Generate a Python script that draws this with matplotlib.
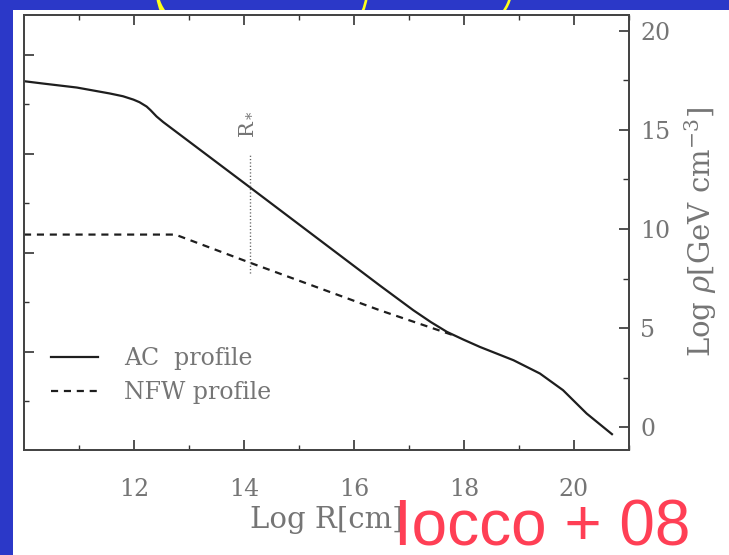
import numpy as np
import matplotlib
matplotlib.use("Agg")
import matplotlib.pyplot as plt
from matplotlib.patches import Ellipse, Rectangle
from matplotlib.ticker import FixedLocator, NullFormatter

plt.rcParams["mathtext.fontset"] = "dejavuserif"

# AC profile (log R [cm], log rho [GeV cm^-3])
ac_logr = [10.0, 10.35, 10.96, 11.56, 11.8, 11.99, 12.1, 12.23, 12.3, 12.41, 12.53,
           14.11, 16.47, 17.08, 17.4, 17.69, 17.99, 18.29, 18.9, 19.38, 19.8, 20.23, 20.69]
ac_rho = [17.46, 17.34, 17.14, 16.84, 16.7, 16.53, 16.4, 16.18, 16.0, 15.68, 15.40,
          12.10, 7.15, 5.90, 5.3, 4.81, 4.42, 4.05, 3.38, 2.71, 1.87, 0.69, -0.35]

# NFW profile
nfw_logr = [10.0, 12.75, 14.11, 16.47, 17.69, 17.85]
nfw_rho = [9.72, 9.72, 8.3, 5.9, 4.75, 4.6]

# R* marker
rstar_x = 14.11
rstar_lo, rstar_hi = 7.77, 13.82

xmaj = [12, 14, 16, 18, 20]
xmin = [11, 13, 15, 17, 19, 21]
ymaj = [0, 5, 10, 15, 20]
ymin = [2.5, 7.5, 12.5, 17.5]
# left axis has its own (unlabelled) scale
lmaj = [3.8, 8.8, 13.8, 18.8]
lmin = [1.3, 6.3, 11.3, 16.3]

W, H = 729, 555
BLUE = "#2b38c8"
GREY = "#757575"
INK = "#1e1e1e"
SERIF = "DejaVu Serif"


def px(x, y):
    # pixel (from top-left) -> figure fraction
    return x / W, 1 - y / H


fig = plt.figure(figsize=(W / 100, H / 100), dpi=100)
fig.patch.set_facecolor(BLUE)

# yellow ellipses of the slide, mostly hidden behind the picture
for cx, a in [(262, 105), (334, 177)]:
    fig.add_artist(Ellipse(px(cx, -10), 2 * a / W, 150 / H, transform=fig.transFigure,
                           fill=False, ec="#ffff1a", lw=1.9, zorder=0))

# white picture
x0, y0 = px(13, 555)
fig.add_artist(Rectangle((x0, y0), 1 - x0, (555 - 10) / H, transform=fig.transFigure,
                         fc="white", ec="none", zorder=1))

l, b = px(24, 450)
r, t = px(629, 15)
ax = fig.add_axes([l, b, r - l, t - b])
ax.set_zorder(3)
ax.patch.set_alpha(0)

ax.plot(ac_logr, ac_rho, color=INK, lw=1.6, label="AC  profile")
ax.plot(nfw_logr, nfw_rho, color=INK, lw=1.6, linestyle=(0, (3.2, 2.6)), label="NFW profile")
ax.plot([rstar_x, rstar_x], [rstar_lo, rstar_hi], color="#555555", lw=1.0, linestyle=(0, (0.8, 1.6)))
ax.text(rstar_x - 0.09, 15.3, r"R$_*$", rotation=90, ha="center", va="center",
        fontsize=15, color=GREY, family=SERIF)

ax.set_xlim(10, 21)
ax.set_ylim(-1.15, 20.8)

ax.xaxis.set_major_locator(FixedLocator(xmaj))
ax.xaxis.set_minor_locator(FixedLocator(xmin))
ax.yaxis.set_major_locator(FixedLocator(lmaj))
ax.yaxis.set_minor_locator(FixedLocator(lmin))
ax.yaxis.set_major_formatter(NullFormatter())
ax.tick_params(which="both", direction="in", top=True, color="#333333")
ax.tick_params(which="major", length=7, width=1.2)
ax.tick_params(which="minor", length=3.5, width=1.0)
ax.tick_params(axis="x", pad=20, labelsize=17, labelcolor=GREY)
for lab in ax.get_xticklabels():
    lab.set_family(SERIF)
for s in ax.spines.values():
    s.set_color("#444444")
    s.set_linewidth(1.3)

ax2 = ax.twinx()
ax2.set_ylim(ax.get_ylim())
ax2.yaxis.set_major_locator(FixedLocator(ymaj))
ax2.yaxis.set_minor_locator(FixedLocator(ymin))
ax2.tick_params(which="both", direction="in", color="#333333")
ax2.tick_params(which="major", length=7, width=1.2)
ax2.tick_params(which="minor", length=4, width=1.0)
ax2.tick_params(axis="y", pad=8, labelsize=17, labelcolor=GREY)
for lab in ax2.get_yticklabels():
    lab.set_family(SERIF)
for s in ax2.spines.values():
    s.set_color("#444444")
    s.set_linewidth(1.3)

ax.set_xlabel("Log R[cm]", fontsize=21, color=GREY, family=SERIF, labelpad=4)
ax2.set_ylabel(r"Log $\rho$[GeV cm$^{-3}$]", fontsize=21, color=GREY, family=SERIF,
               labelpad=9)

leg = ax.legend(loc="upper left", bbox_to_anchor=(0.045, 0.236), frameon=False,
                borderpad=0, borderaxespad=0, handlelength=2.0, handletextpad=1.1,
                labelspacing=0.45, prop={"family": SERIF, "size": 17})
for txt in leg.get_texts():
    txt.set_color(GREY)

tx, ty = px(394, 545)
fig.text(tx, ty, "Iocco + 08", fontsize=46, color="#ff3f55", ha="left", va="baseline",
         family="Liberation Sans", zorder=5)

fig.savefig("out.png", dpi=100, facecolor=fig.get_facecolor())
